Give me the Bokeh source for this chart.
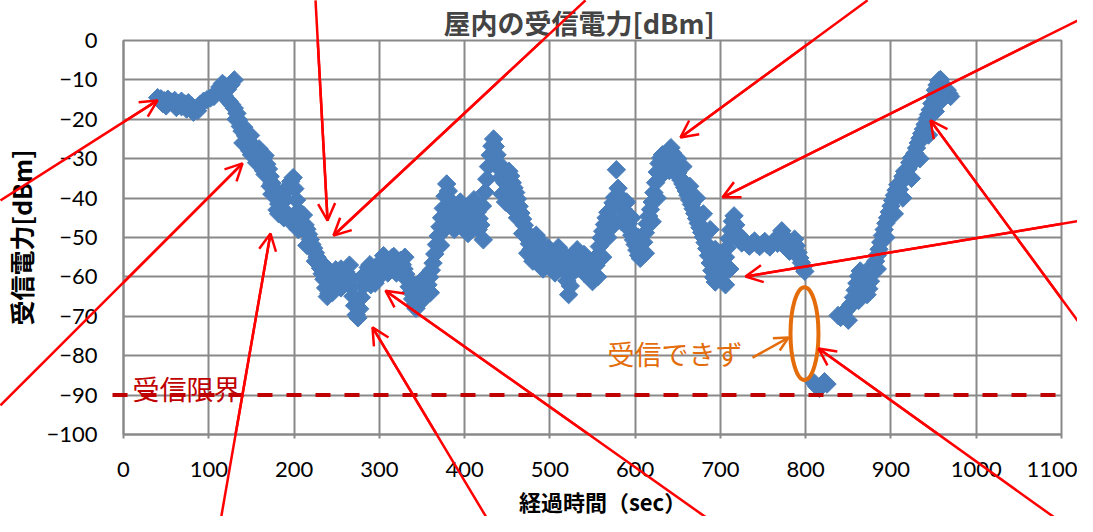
import numpy as np
from bokeh.plotting import figure
from bokeh.models import Arrow, OpenHead, Label, FixedTicker, Range1d, ColumnDataSource
from bokeh.core.properties import value
from bokeh.embed import file_html
from bokeh.resources import INLINE

TITLE = "屋内の受信電力[dBm]"
X_LABEL = "経過時間（sec）"
Y_LABEL = "受信電力[dBm]"
x_ticks = list(range(0, 1101, 100))
y_ticks = list(range(-100, 1, 10))

# ---- measured samples (time [s], received power [dBm]) ----
time_sec = (
    [40, 44, 48, 52, 56, 60, 64, 68, 72, 76, 80, 84, 87, 90, 94, 98, 102, 106, 110, 113, 116, 119, 122, 126, 130]
    + [118, 121, 124, 127, 130, 133, 135, 137, 139, 141, 143, 146, 149, 151, 154, 156, 159, 161, 164, 166,
       168, 170, 172, 174, 176, 178, 180, 182, 184, 186, 188, 190, 193, 196, 199]
    + [190, 194, 198, 201, 203, 205, 207, 209, 211, 213, 215, 217, 219, 221, 223, 225, 227, 229, 231, 233,
       235, 237, 239, 241, 243, 245, 247, 249, 251, 253, 255, 257, 259, 261, 263, 265, 267, 269, 271, 273,
       275, 277, 279, 281, 283, 285, 287, 289, 291, 293, 295, 297, 299]
    + [301, 303, 305, 307, 309, 311, 313, 315, 317, 319, 321, 323, 325, 327, 329, 331, 333, 335, 337, 339,
       341, 343, 345, 347, 349, 351, 353, 355, 357, 359, 361, 363, 365, 367, 369, 371, 373, 375, 377, 379,
       381, 383, 385, 387, 389, 391, 393, 395, 397, 399, 401, 403, 405, 407, 409, 411, 413, 415, 417, 419]
    + [422, 421, 424, 426, 428, 430, 432, 434, 436, 438, 440, 442, 444, 446, 448, 450, 452, 454, 456, 458,
       460, 462, 464, 466, 468, 470, 472, 474, 476, 478, 480, 482, 484, 486, 488, 490, 492, 494, 496, 498]
    + [500, 502, 504, 506, 508, 510, 512, 514, 516, 518, 520, 522, 524, 526, 528, 530, 532, 534, 536, 538,
       540, 542, 544, 546, 548, 550, 552, 554, 556, 558, 560, 562, 564, 566, 568, 570, 572, 574, 576, 578,
       580, 582, 584, 586, 588, 590, 592, 594, 596, 598]
    + [600, 602, 604, 606, 608, 610, 612, 614, 616, 618, 620, 622, 624, 626, 628, 630, 632, 634, 636, 638,
       640, 642, 644, 646, 648, 650, 652, 654, 656, 658, 660, 662, 664, 666, 668, 670, 672, 674, 676, 678,
       680, 682, 684, 686, 688, 690, 692, 694, 696, 698]
    + [700, 702, 704, 706, 708, 710, 712, 714, 716, 718, 720, 722, 725, 728, 731, 734, 737, 740, 743, 746,
       749, 752, 755, 758, 761, 764, 767, 770, 772, 774, 776, 778, 781, 784, 787, 789, 791, 793, 795, 797, 799]
    + [810, 813, 816, 819, 822, 825]
    + [838, 841, 844, 847, 850, 853, 856, 858, 860, 862, 864, 866, 868, 870, 872, 874, 876, 878]
    + [880, 882, 884, 886, 888, 890, 892, 894, 896, 898, 900, 902, 904, 906, 908, 910, 912, 914, 916, 918,
       920, 922, 924, 926, 928, 930, 932, 934, 936, 938, 940, 942, 944, 946, 948, 950, 952, 954, 956, 958,
       960, 962, 964, 966, 968, 970]
    + [150, 158, 166, 174, 182, 205, 215, 225, 235, 245, 255, 265, 280, 290, 300, 310, 320, 330, 340, 350,
       360, 372, 376, 380, 384, 388, 396, 404, 410, 416, 444, 448, 452, 458, 462, 468, 474, 480, 486, 492,
       500, 506, 512, 530, 540, 548, 556, 562, 568, 574, 584, 590, 596, 604, 612, 620, 626, 632, 640, 650,
       656, 664, 672, 680, 688, 694, 702, 706, 711]
    + [850, 862, 874, 884, 894, 904, 914, 924, 934, 944, 952, 960]
    + [50, 62, 74, 82, 46, 68]
    + [132, 140, 148, 156, 164, 172, 180, 188, 196]
)
power_dbm = (
    [-14.5, -14.8, -15.3, -14.9, -15.6, -15.2, -16.0, -15.4, -16.1, -15.8, -16.6, -17.3, -17.8, -16.2, -15.4,
     -15.0, -14.6, -14.2, -13.0, -11.8, -10.9, -11.5, -12.4, -11.2, -10.0]
    + [-14.0, -14.8, -15.5, -16.3, -17.2, -18.5, -20.2, -21.8, -23.0, -22.0, -24.2, -25.3, -24.1, -26.5, -27.3,
       -28.2, -27.5, -29.1, -30.0, -29.2, -31.4, -32.6, -34.5, -36.2, -37.5, -38.8, -40.1, -41.5, -42.6, -41.2,
       -40.0, -38.3, -37.1, -35.8, -34.8]
    + [-43.5, -44.8, -45.5, -37.6, -40.5, -43.2, -45.0, -46.2, -44.3, -46.8, -47.9, -49.2, -50.5, -51.8, -52.7,
       -53.9, -55.0, -56.4, -57.8, -59.2, -60.6, -62.8, -65.0, -64.2, -62.1, -60.5, -59.0, -58.2, -59.6, -61.3,
       -62.8, -61.5, -60.2, -58.8, -59.5, -61.0, -62.6, -64.9, -67.3, -69.6, -70.4, -68.1, -65.2, -62.4, -60.3,
       -58.9, -57.6, -56.9, -58.4, -60.1, -61.6, -60.4, -58.7]
    + [-57.2, -55.9, -54.6, -55.5, -56.8, -57.9, -56.3, -55.1, -54.8, -56.2, -57.4, -56.6, -55.8, -56.9, -58.0,
       -59.3, -60.8, -62.5, -63.9, -65.6, -67.2, -68.0, -66.3, -64.1, -62.4, -60.6, -61.8, -63.5, -62.0, -60.1,
       -58.3, -56.5, -54.2, -51.8, -49.6, -47.3, -45.0, -42.6, -39.5, -36.4, -38.2, -40.6, -42.8, -44.5, -45.6,
       -44.0, -42.2, -41.0, -42.5, -44.1, -45.8, -46.5, -45.0, -43.2, -41.6, -40.4, -41.9, -43.5, -45.2, -46.8]
    + [-50.6, -42.0, -38.5, -35.2, -32.0, -29.1, -26.8, -25.0, -26.9, -29.0, -31.2, -32.8, -34.5, -35.7, -36.3,
       -34.6, -33.2, -34.4, -36.1, -37.4, -38.6, -40.2, -42.1, -43.8, -45.3, -46.9, -48.5, -50.2, -51.6, -53.0,
       -52.1, -50.6, -49.4, -50.3, -51.7, -53.2, -54.6, -55.5, -54.1, -52.6]
    + [-53.4, -54.7, -56.0, -55.2, -53.8, -52.5, -53.3, -54.8, -56.5, -58.4, -61.0, -64.5, -62.3, -59.1, -56.2,
       -54.0, -53.1, -55.0, -56.8, -55.9, -54.3, -55.6, -57.3, -59.0, -60.4, -61.2, -59.5, -57.1, -54.6, -52.3,
       -50.1, -48.4, -46.7, -45.0, -43.6, -44.8, -42.9, -41.2, -39.8, -32.8, -37.5, -39.6, -41.3, -42.8, -43.9,
       -45.2, -46.5, -48.1, -49.4, -50.6]
    + [-51.8, -53.2, -54.5, -55.3, -53.6, -51.2, -48.8, -46.5, -44.6, -42.9, -41.0, -38.6, -36.1, -33.4, -31.2,
       -29.8, -29.0, -30.1, -31.0, -29.3, -27.8, -27.2, -28.6, -30.5, -32.2, -33.6, -34.8, -35.5, -36.4, -37.3,
       -38.2, -39.3, -40.5, -41.6, -42.7, -43.9, -45.2, -46.4, -47.5, -48.7, -49.9, -51.3, -52.8, -54.6, -56.5,
       -58.4, -60.1, -61.3, -60.2, -58.8]
    + [-60.6, -59.3, -57.2, -55.0, -52.6, -50.3, -48.1, -45.9, -44.5, -46.8, -49.0, -50.6, -51.4, -50.8, -51.6,
       -52.2, -51.5, -50.9, -51.7, -52.3, -51.6, -51.0, -51.8, -52.4, -51.3, -50.6, -51.5, -49.8, -48.3, -49.6,
       -51.2, -52.8, -53.5, -52.0, -50.4, -52.1, -53.8, -55.2, -56.4, -57.5, -58.6]
    + [-86.9, -87.8, -88.3, -87.5, -86.6, -87.2]
    + [-69.8, -70.3, -69.4, -68.6, -67.9, -67.0, -65.2, -63.4, -61.6, -59.8, -58.5, -59.7, -61.4, -63.2, -64.5,
       -63.0, -61.1, -59.0]
    + [-57.5, -56.0, -54.5, -53.0, -51.2, -49.5, -48.0, -46.4, -45.0, -43.5, -42.0, -40.6, -39.3, -38.0, -36.6,
       -37.8, -36.0, -34.5, -33.2, -34.4, -32.6, -31.0, -29.8, -30.9, -28.6, -27.3, -26.0, -24.8, -23.6, -22.5,
       -21.3, -19.9, -18.8, -17.6, -16.0, -14.2, -12.6, -11.3, -10.2, -9.9, -11.0, -12.2, -13.1, -12.6, -13.5,
       -14.2]
    + [-29, -31, -34, -39, -44, -48, -52, -56, -57, -64, -58, -57, -60, -62, -60, -59, -59, -55, -62, -66,
       -64, -52, -48, -44, -46, -48, -47, -49, -47, -48, -39, -41, -40, -43, -45, -49, -54, -56, -55, -58,
       -57, -59, -57, -58, -59, -56, -60, -55, -50, -47, -46, -41, -45, -50, -54, -46, -40, -34, -33, -30,
       -32, -37, -40, -44, -48, -53, -56, -62, -58]
    + [-71, -66, -58, -58, -50, -44, -40, -35, -30, -24, -18, -15]
    + [-16.6, -17.0, -17.4, -18.2, -16.0, -16.8]
    + [-20.0, -26.0, -28.0, -31.0, -33.0, -37.0, -43.0, -45.0, -46.0]
)

# ---- annotations ----
limit_dbm = -90
limit_label = "受信限界"
lost_label = "受信できず"
lost_ellipse_x, lost_ellipse_y = 798.6, -74.4
lost_ellipse_w, lost_ellipse_h = 32.8, 23.6

arrow_x_start = [-144.3, -144.3, 111.4, 225.2, 541.8, 872.6, 1137.6, 1137.6, 1137.6, 1116.5, 708.4, 436.3]
arrow_y_start = [-40.6, -92.6, -124.9, 10.2, 10.2, 10.2, 7.1, -45.2, -76.6, -124.9, -124.9, -124.9]
arrow_x_end = [39.9, 139.6, 172.4, 239.3, 246.3, 653.2, 702.5, 729.5, 946.4, 815.1, 307.3, 292.0]
arrow_y_end = [-15.2, -31.2, -49.0, -45.7, -49.5, -24.6, -39.8, -59.9, -20.3, -78.2, -63.5, -72.8]

n = min(len(time_sec), len(power_dbm))
src = ColumnDataSource(dict(x=time_sec[:n], y=power_dbm[:n]))

GRID = "#898989"
p = figure(width=1077, height=516, output_backend="svg", toolbar_location=None,
           x_range=Range1d(0, 1100), y_range=Range1d(-100, 0),
           min_border_left=123, min_border_right=16, min_border_top=40, min_border_bottom=82)
p.background_fill_color = "white"
p.border_fill_color = "white"
p.outline_line_color = GRID
p.outline_line_width = 2

p.title.text = TITLE
p.title.text_font = "Noto Sans CJK JP"
p.title.text_font_size = "27px"
p.title.text_font_style = "bold"
p.title.align = "left"
p.title.offset = 320
p.title.standoff = -3

for ax in (p.xaxis[0], p.yaxis[0]):
    ax.axis_line_color = GRID
    ax.axis_line_width = 2
    ax.major_tick_line_color = GRID
    ax.major_tick_line_width = 2
    ax.minor_tick_line_color = None
    ax.major_tick_in = 0
    ax.major_label_text_font = "Lato"
    ax.major_label_text_font_size = "22px"
    ax.major_label_text_color = "black"
    ax.axis_label_text_font = "Noto Sans CJK JP"
    ax.axis_label_text_font_style = "bold"
    ax.axis_label_text_color = "black"

p.xaxis.ticker = FixedTicker(ticks=x_ticks)
p.yaxis.ticker = FixedTicker(ticks=y_ticks)
p.xaxis.major_tick_out = 4
p.yaxis.major_tick_out = 0
p.xaxis.major_label_standoff = 23
p.yaxis.major_label_standoff = 26
p.yaxis.axis_label = Y_LABEL
p.yaxis.axis_label_text_font_size = "25px"
p.yaxis.axis_label_standoff = 4

p.xgrid.ticker = FixedTicker(ticks=x_ticks)
p.ygrid.ticker = FixedTicker(ticks=y_ticks)
for g in (p.xgrid[0], p.ygrid[0]):
    g.grid_line_color = GRID
    g.grid_line_width = 2

# x-axis title, placed near the bottom edge as in the original
p.text(x=[561.8], y=[-116.8], text=[X_LABEL], text_font=value("Noto Sans CJK JP"),
       text_font_style="bold", text_font_size="22px", text_color="black",
       text_align="center", text_baseline="middle", level="overlay")

# data markers (diamonds)
p.scatter("x", "y", source=src, marker="square", size=13, angle=np.pi / 4,
          fill_color="#4A7EBB", line_color="#4A7EBB", line_width=1)

# reception limit
p.segment(x0=[-12.9], y0=[limit_dbm], x1=[1100], y1=[limit_dbm], line_color="#C00000",
          line_width=4, line_dash="15 14", level="overlay")
p.add_layout(Label(x=10.5, y=-88.3, text=limit_label, text_font="Noto Sans CJK JP",
                   text_font_size="27px", text_color="#C00000", text_baseline="middle", text_align="left"))

# no-reception area
p.ellipse(x=[lost_ellipse_x], y=[lost_ellipse_y], width=lost_ellipse_w, height=lost_ellipse_h,
          fill_color=None, line_color="#E46C0A", line_width=4)
p.add_layout(Label(x=567.6, y=-79.5, text=lost_label, text_font="Noto Sans CJK JP",
                   text_font_size="27px", text_color="#E46C0A", text_baseline="middle", text_align="left"))
p.add_layout(Arrow(x_start=737.7, y_start=-80.5, x_end=779.9, y_end=-75.4,
                   line_color="#E46C0A", line_width=2.5,
                   end=OpenHead(size=14, line_color="#E46C0A", line_width=2.5)))

# red pointer arrows: shafts as overlay segments, heads as arrows
p.segment(x0=arrow_x_start, y0=arrow_y_start, x1=arrow_x_end, y1=arrow_y_end,
          line_color="#FF0000", line_width=2.5, level="overlay")
for xs, ys, xe, ye in zip(arrow_x_start, arrow_y_start, arrow_x_end, arrow_y_end):
    p.add_layout(Arrow(x_start=xs, y_start=ys, x_end=xe, y_end=ye,
                       line_color="#FF0000", line_width=2.5,
                       end=OpenHead(size=17, line_color="#FF0000", line_width=2.5)))

open("out.html", "w").write(file_html(p, INLINE))
